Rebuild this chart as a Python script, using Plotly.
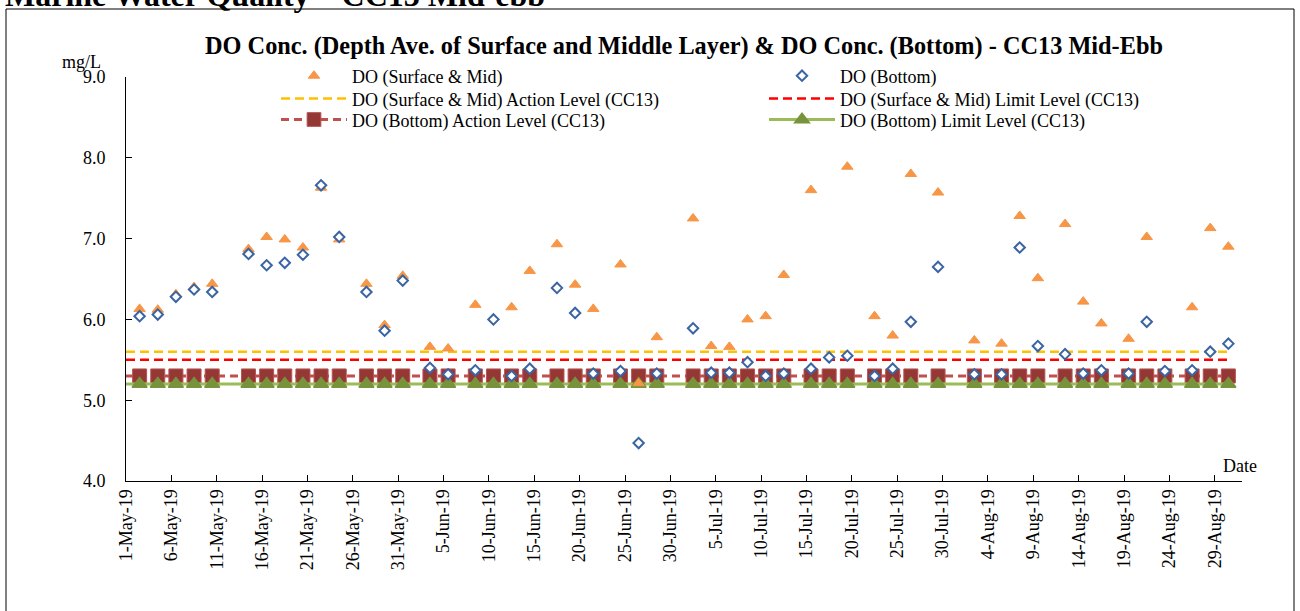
import plotly.graph_objects as go

# ---- data -------------------------------------------------------------
sample_dates = [
    "2019-05-02", "2019-05-04", "2019-05-06", "2019-05-08", "2019-05-10",
    "2019-05-14", "2019-05-16", "2019-05-18", "2019-05-20", "2019-05-22",
    "2019-05-24", "2019-05-27", "2019-05-29", "2019-05-31",
    "2019-06-03", "2019-06-05", "2019-06-08", "2019-06-10", "2019-06-12",
    "2019-06-14", "2019-06-17", "2019-06-19", "2019-06-21", "2019-06-24",
    "2019-06-26", "2019-06-28",
    "2019-07-02", "2019-07-04", "2019-07-06", "2019-07-08", "2019-07-10",
    "2019-07-12", "2019-07-15", "2019-07-17", "2019-07-19", "2019-07-22",
    "2019-07-24", "2019-07-26", "2019-07-29",
    "2019-08-02", "2019-08-05", "2019-08-07", "2019-08-09", "2019-08-12",
    "2019-08-14", "2019-08-16", "2019-08-19", "2019-08-21", "2019-08-23",
    "2019-08-26", "2019-08-28", "2019-08-30",
]
sample_time = "12:00"

do_surface_mid = [
    6.13, 6.12, 6.31, 6.40, 6.44, 6.87, 7.02, 6.99, 6.89, 7.63, 6.99, 6.44, 5.93, 6.54,
    5.66, 5.64, 6.18, None, 6.15, 6.60, 6.93, 6.43, 6.13, 6.68, 5.21, 5.78,
    7.25, 5.67, 5.66, 6.00, 6.04, 6.55, 7.60, None, 7.89, 6.04, 5.80, 7.80, 7.57,
    5.74, 5.70, 7.28, 6.51, 7.18, 6.22, 5.95, 5.76, 7.02, None, 6.15, 7.13, 6.90,
]
do_bottom = [
    6.04, 6.06, 6.28, 6.37, 6.34, 6.81, 6.67, 6.70, 6.80, 7.66, 7.02, 6.34, 5.86, 6.48,
    5.40, 5.32, 5.37, 6.00, 5.30, 5.39, 6.39, 6.08, 5.33, 5.36, 4.47, 5.33,
    5.89, 5.34, 5.34, 5.47, 5.30, 5.33, 5.39, 5.53, 5.55, 5.30, 5.39, 5.97, 6.65,
    5.32, 5.32, 6.89, 5.67, 5.57, 5.33, 5.37, 5.33, 5.97, 5.36, 5.37, 5.60, 5.70,
]
level_start = "2019-05-01"
sm_action_level = 5.6
sm_limit_level = 5.5
bottom_action_level = 5.3
bottom_limit_level = 5.2

x_range = ["2019-05-01", "2019-09-01"]
y_range = [4, 9]

title_text = "DO Conc. (Depth Ave. of Surface and Middle Layer) & DO Conc. (Bottom) - CC13 Mid-Ebb"
heading_text = "Marine Water Quality – CC13 Mid-ebb"

# ---- build ---------------------------------------------------------------
FONT = "Liberation Serif"
W, H = 1300, 611
L, R, T, B = 126, 58, 77, 130
PW, PH = W - L - R, H - T - B


def px_x(p):
    return (p - L) / PW


def px_y(p):
    return (H - B - p) / PH


xs = [d + " " + sample_time for d in sample_dates]
n = len(xs)
level_x = [level_start] + xs
end_x = xs[-1]

fig = go.Figure()

fig.add_trace(go.Scatter(
    x=[level_start, end_x], y=[sm_action_level] * 2, mode="lines",
    name="DO (Surface & Mid) Action Level (CC13)", legend="legend2",
    line=dict(color="#FFC000", width=2.5, dash="9px,5px"),
))
fig.add_trace(go.Scatter(
    x=[level_start, end_x], y=[sm_limit_level] * 2, mode="lines",
    name="DO (Surface & Mid) Limit Level (CC13)", legend="legend2",
    line=dict(color="#FF0000", width=2.5, dash="9px,5px"),
))
fig.add_trace(go.Scatter(
    x=level_x, y=[bottom_action_level] * (n + 1), mode="lines+markers",
    name="DO (Bottom) Action Level (CC13)", legend="legend3",
    line=dict(color="#C0504D", width=3, dash="8px,5px"),
    marker=dict(symbol="square", size=[0] + [14] * n, color="#953735", opacity=1,
                line=dict(color="#B45552", width=1)),
))
fig.add_trace(go.Scatter(
    x=level_x, y=[bottom_limit_level] * (n + 1), mode="lines+markers",
    name="DO (Bottom) Limit Level (CC13)", legend="legend3",
    line=dict(color="#9BBB59", width=3),
    marker=dict(symbol="triangle-up", size=[0] + [13] * n, color="#77933C", opacity=1,
                line=dict(color="#77933C", width=1.5)),
))
fig.add_trace(go.Scatter(
    x=xs, y=do_surface_mid, mode="markers",
    name="DO (Surface & Mid)", legend="legend",
    marker=dict(symbol="triangle-up", size=10, color="#F79646",
                line=dict(color="#F79646", width=1)),
))
fig.add_trace(go.Scatter(
    x=xs, y=do_bottom, mode="markers",
    name="DO (Bottom)", legend="legend",
    marker=dict(symbol="diamond", size=8, color="white",
                line=dict(color="#3A64A2", width=2)),
))

LEG_X = px_x(276)
leg_common = dict(orientation="h", x=LEG_X, xanchor="left", yanchor="top",
                  font=dict(family=FONT, size=18, color="black"),
                  itemwidth=66, entrywidth=407, entrywidthmode="pixels",
                  bgcolor="rgba(0,0,0,0)", borderwidth=0, itemsizing="trace")

fig.update_layout(
    width=W, height=H,
    margin=dict(l=L, r=R, t=T, b=B, autoexpand=False),
    paper_bgcolor="white", plot_bgcolor="white",
    font=dict(family=FONT, size=18, color="black"),
    title=dict(text="<b>" + title_text + "</b>", x=0.5, xref="paper",
               y=1 - 45 / H, yref="container", yanchor="middle", xanchor="center",
               font=dict(family=FONT, size=24.3, color="black")),
    showlegend=True,
    legend=dict(y=px_y(57.5), **leg_common),
    legend2=dict(y=px_y(80.3), **leg_common),
    legend3=dict(y=px_y(101.3), **leg_common),
    xaxis=dict(type="date", range=x_range, tick0=x_range[0], dtick=5 * 86400000,
               tickformat="%-d-%b-%y", tickangle=-90, ticks="inside", ticklen=6,
               tickcolor="black", showline=True, linecolor="black", linewidth=1,
               showgrid=False, zeroline=False,
               tickfont=dict(family=FONT, size=18, color="black")),
    yaxis=dict(range=y_range, dtick=1, tickformat=".1f", ticks="inside", ticklen=6,
               tickcolor="black", showline=True, linecolor="black", linewidth=1,
               showgrid=False, zeroline=False, ticklabelstandoff=16,
               tickfont=dict(family=FONT, size=18, color="black")),
)

fig.add_annotation(text="mg/L", xref="paper", yref="paper", x=px_x(103),
                   y=px_y(62), xanchor="right", yanchor="middle",
                   showarrow=False, font=dict(family=FONT, size=18, color="black"))
fig.add_annotation(text="Date", xref="paper", yref="paper", x=px_x(1221),
                   y=px_y(466), xanchor="left", yanchor="middle",
                   showarrow=False, font=dict(family=FONT, size=18, color="black"))
fig.add_annotation(text="<b>" + heading_text + "</b>", xref="paper", yref="paper",
                   x=px_x(3), y=px_y(-5), xanchor="left", yanchor="middle",
                   showarrow=False, font=dict(family=FONT, size=32, color="black"))

fig.add_shape(type="rect", xref="paper", yref="paper",
              x0=px_x(6), x1=px_x(1294), y0=px_y(640), y1=px_y(9),
              line=dict(color="black", width=1), fillcolor="rgba(0,0,0,0)", layer="below")

fig.write_html("out.html", config={"displayModeBar": False},
               post_script="document.body.style.margin='0px';")
